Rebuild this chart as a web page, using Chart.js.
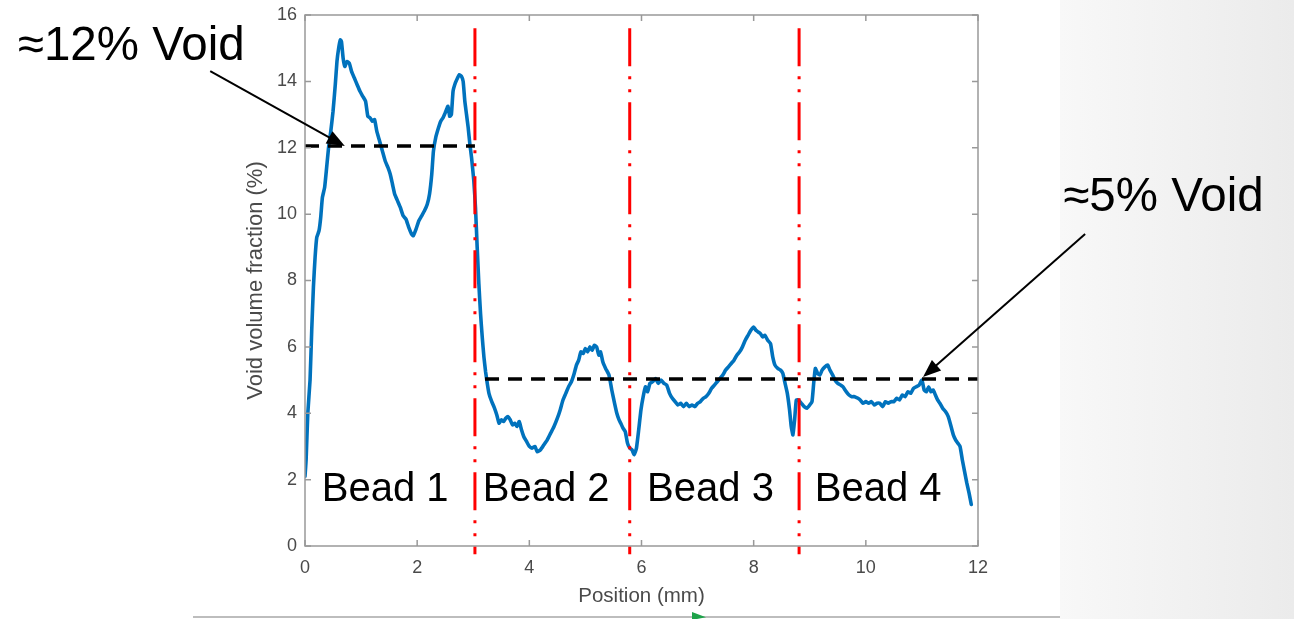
<!DOCTYPE html>
<html>
<head>
<meta charset="utf-8">
<script src="https://cdn.jsdelivr.net/npm/chart.js@4.4.0/dist/chart.umd.min.js"></script>
<style>
  html, body { margin: 0; padding: 0; background: #fff; }
  #wrap { position: relative; width: 1294px; height: 619px; overflow: hidden; }
  #panel { position: absolute; left: 1060px; top: 0; width: 234px; height: 619px; background: linear-gradient(to left, #ebebeb, #f8f8f8); }
  #rule { position: absolute; left: 193px; top: 616px; width: 867px; height: 2px; background: #bdbdbd; }
  #mark { position: absolute; left: 692px; top: 612px; width: 14px; height: 8px; background: #1ea34a; clip-path: polygon(0 0, 100% 65%, 0 100%); }
  canvas { position: absolute; left: 0; top: 0; }
</style>
</head>
<body>
<div id="wrap">
  <div id="panel"></div>
  <div id="rule"></div>
  <div id="mark"></div>
  <canvas id="chart" width="1294" height="619"></canvas>
</div>
<script>
// void fraction profile along the deposited beads
const positionMm = [
  0.00, 0.02, 0.05, 0.09, 0.12, 0.15, 0.18, 0.21, 0.25, 0.28, 0.31, 0.35, 0.38, 0.42, 0.46, 0.50,
  0.54, 0.57, 0.60, 0.63, 0.65, 0.68, 0.71, 0.75, 0.79, 0.83, 0.88, 0.93, 0.98, 1.03, 1.08, 1.12,
  1.16, 1.20, 1.24, 1.28, 1.33, 1.38, 1.43, 1.48, 1.52, 1.56, 1.60, 1.65, 1.70, 1.75, 1.80, 1.85,
  1.90, 1.93, 1.98, 2.03, 2.08, 2.13, 2.18, 2.22, 2.26, 2.29, 2.33, 2.38, 2.42, 2.46, 2.50, 2.55,
  2.58, 2.61, 2.64, 2.68, 2.72, 2.75, 2.79, 2.82, 2.85, 2.88, 2.91, 2.94, 2.97, 3.01, 3.04, 3.07,
  3.10, 3.13, 3.16, 3.19, 3.22, 3.25, 3.28, 3.33, 3.38, 3.42, 3.46, 3.50, 3.54, 3.58, 3.62, 3.66,
  3.70, 3.74, 3.78, 3.82, 3.86, 3.90, 3.95, 4.00, 4.05, 4.10, 4.14, 4.20, 4.26, 4.32, 4.38, 4.44,
  4.50, 4.55, 4.60, 4.65, 4.70, 4.75, 4.80, 4.84, 4.88, 4.92, 4.96, 5.00, 5.04, 5.08, 5.12, 5.16,
  5.20, 5.24, 5.27, 5.31, 5.36, 5.42, 5.47, 5.52, 5.56, 5.60, 5.63, 5.67, 5.71, 5.75, 5.79, 5.83,
  5.87, 5.91, 5.95, 5.99, 6.03, 6.07, 6.11, 6.15, 6.20, 6.25, 6.30, 6.35, 6.40, 6.45, 6.50, 6.55,
  6.60, 6.65, 6.70, 6.75, 6.80, 6.85, 6.90, 6.95, 7.00, 7.05, 7.10, 7.15, 7.20, 7.25, 7.30, 7.35,
  7.40, 7.45, 7.50, 7.55, 7.60, 7.65, 7.70, 7.75, 7.80, 7.85, 7.90, 7.95, 8.00, 8.04, 8.08, 8.12,
  8.16, 8.20, 8.25, 8.30, 8.34, 8.38, 8.43, 8.48, 8.52, 8.56, 8.60, 8.64, 8.67, 8.70, 8.73, 8.76,
  8.80, 8.85, 8.90, 8.95, 9.00, 9.04, 9.07, 9.10, 9.14, 9.18, 9.22, 9.27, 9.32, 9.36, 9.41, 9.45,
  9.50, 9.55, 9.59, 9.65, 9.70, 9.75, 9.80, 9.86, 9.90, 9.95, 10.00, 10.05, 10.10, 10.15, 10.20, 10.25,
  10.30, 10.35, 10.40, 10.45, 10.50, 10.55, 10.60, 10.65, 10.70, 10.75, 10.80, 10.85, 10.90, 10.95, 11.00, 11.04,
  11.08, 11.12, 11.16, 11.20, 11.24, 11.28, 11.32, 11.37, 11.42, 11.47, 11.52, 11.56, 11.60, 11.64, 11.68, 11.72,
  11.76, 11.80, 11.84, 11.88
]
const voidPct = [
  2.1, 2.6, 4.0, 5.0, 6.5, 7.8, 8.7, 9.3, 9.5, 9.9, 10.5, 10.8, 11.3, 12.0, 12.5, 13.1,
  13.9, 14.6, 15.0, 15.25, 15.2, 14.7, 14.45, 14.6, 14.55, 14.3, 14.1, 13.9, 13.7, 13.55, 13.4, 12.95,
  12.9, 12.8, 12.85, 12.5, 12.2, 11.9, 11.6, 11.4, 11.2, 10.9, 10.6, 10.4, 10.2, 9.95, 9.85, 9.6,
  9.4, 9.35, 9.55, 9.8, 9.95, 10.1, 10.3, 10.6, 11.2, 11.9, 12.3, 12.6, 12.8, 12.9, 13.05, 13.25,
  12.95, 13.0, 13.7, 13.95, 14.1, 14.2, 14.15, 14.0, 13.4, 13.0, 12.6, 12.1, 11.7, 11.0, 10.2, 9.0,
  7.9, 7.0, 6.3, 5.7, 5.25, 4.9, 4.6, 4.35, 4.15, 3.95, 3.7, 3.8, 3.75, 3.85, 3.9, 3.8,
  3.65, 3.7, 3.6, 3.75, 3.5, 3.3, 3.15, 3.0, 2.95, 3.0, 2.84, 2.9, 3.05, 3.2, 3.4, 3.6,
  3.85, 4.1, 4.4, 4.6, 4.8, 4.95, 5.2, 5.45, 5.6, 5.85, 5.8, 5.95, 5.85, 6.0, 5.9, 6.05,
  6.0, 5.75, 5.85, 5.55, 5.35, 5.15, 4.7, 4.3, 4.0, 3.8, 3.7, 3.55, 3.45, 3.1, 2.95, 2.9,
  2.75, 2.95, 3.5, 4.1, 4.5, 4.8, 4.65, 4.9, 4.95, 5.05, 4.9, 5.0, 4.9, 4.85, 4.6, 4.45,
  4.35, 4.25, 4.3, 4.2, 4.3, 4.2, 4.25, 4.2, 4.3, 4.35, 4.45, 4.5, 4.6, 4.75, 4.85, 4.95,
  5.05, 5.15, 5.3, 5.4, 5.5, 5.6, 5.75, 5.85, 6.0, 6.2, 6.35, 6.5, 6.6, 6.5, 6.45, 6.4,
  6.3, 6.35, 6.2, 6.1, 5.7, 5.45, 5.35, 5.3, 5.2, 4.9, 4.6, 4.1, 3.6, 3.35, 3.8, 4.4,
  4.4, 4.3, 4.2, 4.15, 4.25, 4.35, 4.9, 5.35, 5.2, 5.15, 5.3, 5.4, 5.45, 5.3, 5.15, 5.0,
  4.9, 4.85, 4.8, 4.65, 4.55, 4.5, 4.5, 4.45, 4.4, 4.3, 4.35, 4.3, 4.35, 4.25, 4.3, 4.3,
  4.2, 4.35, 4.3, 4.35, 4.35, 4.45, 4.4, 4.55, 4.5, 4.65, 4.6, 4.75, 4.8, 4.85, 5.0, 4.7,
  4.65, 4.8, 4.65, 4.7, 4.55, 4.4, 4.3, 4.15, 4.05, 3.9, 3.6, 3.35, 3.2, 3.1, 3.0, 2.6,
  2.25, 1.9, 1.6, 1.25
]

const xTicks = [0, 2, 4, 6, 8, 10, 12]
const yTicks = [0, 2, 4, 6, 8, 10, 12, 14, 16]

// bead borders (mm) and their names
const beadBorders = [3.03, 5.79, 8.81]
const beadNames = ['Bead 1', 'Bead 2', 'Bead 3', 'Bead 4']

// average void levels: [from mm, to mm, level %]
const bead1Avg = [0, 3.03, 12.05]
const otherAvg = [3.21, 12, 5.03]
const avgLabels = ['\u224812% Void', '\u22485% Void']

const FONT = '"Liberation Sans", Arial, Helvetica, sans-serif'
Chart.defaults.font.family = FONT

const line = (a, b) => [{x: a[0], y: a[1]}, {x: b[0], y: b[1]}]

const borderSets = beadBorders.map(b => ({
  data: line([b, 15.6], [b, -0.25]),
  borderColor: '#ff0000',
  borderWidth: 3,
  borderDash: [38, 10, 3, 10, 3, 10],
  pointRadius: 0,
  clip: false,
  order: 0
}))

const avgSets = [bead1Avg, otherAvg].map(([from, to, lvl]) => ({
  data: line([from, lvl], [to, lvl]),
  borderColor: '#000',
  borderWidth: 3.5,
  borderDash: [14, 9],
  pointRadius: 0,
  clip: false,
  order: 1
}))

const profileSet = {
  data: positionMm.map((x, i) => ({x, y: voidPct[i]})),
  borderColor: '#0072BD',
  borderWidth: 3.6,
  borderJoinStyle: 'round',
  borderCapStyle: 'round',
  tension: 0.15,
  pointRadius: 0,
  order: 2
}

// MATLAB style box with inward ticks
const boxAxes = {
  id: 'boxAxes',
  afterDatasetsDraw(chart) {
    const {ctx, chartArea: a, scales: {x, y}} = chart
    const len = 6
    ctx.save()
    ctx.strokeStyle = '#999'
    ctx.lineWidth = 1.5
    ctx.strokeRect(a.left, a.top, a.right - a.left, a.bottom - a.top)
    ctx.beginPath()
    x.ticks.forEach(t => {
      const px = x.getPixelForValue(t.value)
      ctx.moveTo(px, a.bottom); ctx.lineTo(px, a.bottom - len)
      ctx.moveTo(px, a.top); ctx.lineTo(px, a.top + len)
    })
    y.ticks.forEach(t => {
      const py = y.getPixelForValue(t.value)
      ctx.moveTo(a.left, py); ctx.lineTo(a.left + len, py)
      ctx.moveTo(a.right, py); ctx.lineTo(a.right - len, py)
    })
    ctx.stroke()
    ctx.restore()
  }
}

function drawArrow(ctx, x0, y0, x1, y1) {
  const ang = Math.atan2(y1 - y0, x1 - x0)
  const c = Math.cos(ang), s = Math.sin(ang)
  const head = 18, half = 7
  ctx.beginPath()
  ctx.moveTo(x0, y0)
  ctx.lineTo(x1 - head * c * 0.8, y1 - head * s * 0.8)
  ctx.stroke()
  ctx.beginPath()
  ctx.moveTo(x1, y1)
  ctx.lineTo(x1 - head * c + half * s, y1 - head * s - half * c)
  ctx.lineTo(x1 - head * c - half * s, y1 - head * s + half * c)
  ctx.closePath()
  ctx.fill()
}

// text labels and arrows, placed in data units
const callouts = {
  id: 'callouts',
  afterDatasetsDraw(chart) {
    const {ctx, scales: {x, y}} = chart
    const px = v => x.getPixelForValue(v)
    const py = v => y.getPixelForValue(v)
    ctx.save()
    ctx.fillStyle = '#000'
    ctx.strokeStyle = '#000'
    ctx.lineWidth = 2
    ctx.textAlign = 'left'
    ctx.textBaseline = 'alphabetic'

    ctx.font = '40px ' + FONT
    const beadX = [0.30, 3.17, 6.10, 9.09]
    beadNames.forEach((n, i) => ctx.fillText(n, px(beadX[i]), py(1.36)))

    ctx.font = '47.5px ' + FONT
    ctx.fillText(avgLabels[0], px(-5.12), py(14.64))
    ctx.fillText(avgLabels[1], px(13.52), py(10.09))

    drawArrow(ctx, px(-1.69), py(14.31), px(0.71), py(bead1Avg[2]))
    drawArrow(ctx, px(13.91), py(9.40), px(11.02), py(5.09))
    ctx.restore()
  }
}

new Chart(document.getElementById('chart').getContext('2d'), {
  type: 'line',
  data: {datasets: [...borderSets, ...avgSets, profileSet]},
  options: {
    responsive: false,
    animation: false,
    devicePixelRatio: 1,
    layout: {padding: {left: 235, right: 316, top: 15, bottom: 10}},
    plugins: {legend: {display: false}, tooltip: {enabled: false}},
    scales: {
      x: {
        type: 'linear',
        min: 0,
        max: 12,
        grid: {display: false, drawTicks: false},
        border: {display: false},
        afterBuildTicks: s => { s.ticks = xTicks.map(v => ({value: v})) },
        afterFit: s => { s.height = 63; s.paddingLeft = 0; s.paddingRight = 0 },
        ticks: {color: '#4a4a4a', font: {size: 18}, padding: 11, maxRotation: 0},
        title: {display: true, text: 'Position (mm)', color: '#4a4a4a', font: {size: 20.5}, padding: 0}
      },
      y: {
        type: 'linear',
        min: 0,
        max: 16,
        grid: {display: false, drawTicks: false},
        border: {display: false},
        afterBuildTicks: s => { s.ticks = yTicks.map(v => ({value: v})) },
        afterFit: s => { s.width = 70; s.paddingTop = 0; s.paddingBottom = 0 },
        ticks: {color: '#4a4a4a', font: {size: 18}, padding: 8},
        title: {display: true, text: 'Void volume fraction (%)', color: '#4a4a4a', font: {size: 22}, padding: {top: 8, bottom: 0}}
      }
    }
  },
  plugins: [boxAxes, callouts]
})
</script>
</body>
</html>
